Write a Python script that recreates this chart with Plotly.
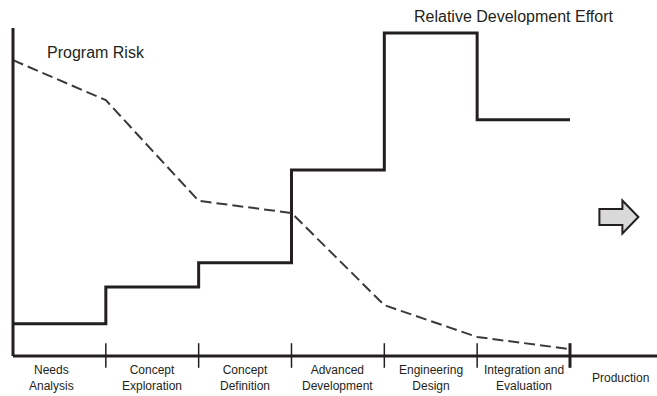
"""
Program risk vs relative development effort across acquisition phases.
"""

import plotly.graph_objects as go

# phase boundaries (0..6) and phase names
phases = ["Needs<br>Analysis", "Concept<br>Exploration", "Concept<br>Definition",
          "Advanced<br>Development", "Engineering<br>Design", "Integration and<br>Evaluation"]
boundaries = [0, 1, 2, 3, 4, 5, 6]

# relative development effort per phase (0-100 scale)
effort = [9.8, 21.0, 28.4, 56.7, 98.5, 72.0]

# program risk at each phase boundary (0-100 scale)
risk = [90.2, 78.0, 47.3, 43.6, 15.5, 5.8, 2.1]

INK = "#231f20"
FONT = "Liberation Sans, Arial, Helvetica, sans-serif"

# pixel scale of the drawing (px per phase, px per risk/effort unit)
XS, YS = 92.83, 3.28

fig = go.Figure()

# effort as a staircase
fig.add_trace(go.Scatter(
    x=boundaries, y=effort + [effort[-1]],
    mode="lines", line=dict(shape="hv", color=INK, width=3),
    hoverinfo="skip", showlegend=False,
))

# risk as dashed polyline
fig.add_trace(go.Scatter(
    x=boundaries, y=risk,
    mode="lines", line=dict(color="#3a3a3a", width=2, dash="11px,5px"),
    hoverinfo="skip", showlegend=False,
))

# axes drawn by hand
fig.add_shape(type="line", x0=0, x1=0, y0=0, y1=100, line=dict(color=INK, width=3))
fig.add_shape(type="line", x0=0, x1=7.0, y0=0, y1=0, line=dict(color=INK, width=3))
for b in boundaries[1:]:
    fig.add_shape(type="line", x0=b, x1=b, y0=3.9, y1=-3.6,
                  line=dict(color=INK, width=3 if b == 6 else 1.5))

# phase labels
label_x = [0.42, 1.5, 2.5, 3.5, 4.5, 5.5]
for x, name in zip(label_x, phases):
    fig.add_annotation(x=x, y=-6.6, text=name, showarrow=False,
                       font=dict(size=12, color=INK, family=FONT),
                       xanchor="center", yanchor="middle")
fig.add_annotation(x=6.54, y=-6.6, text="Production", showarrow=False,
                   font=dict(size=12, color=INK, family=FONT))

# series captions
fig.add_annotation(x=0.345, y=92.4, text="Program Risk", showarrow=False,
                   xanchor="left", font=dict(size=16, color=INK, family=FONT))
fig.add_annotation(x=4.298, y=103.4, text="Relative Development Effort", showarrow=False,
                   xanchor="left", font=dict(size=16, color=INK, family=FONT))

# block arrow pointing to production
cx, cy = 6.5, 42.4
pts = [(-17, -8), (6, -8), (6, -16.5), (22, 0), (6, 16.5), (6, 8), (-17, 8)]
path = "M " + " L ".join(f"{cx + dx / XS:.4f},{cy + dy / YS:.4f}" for dx, dy in pts) + " Z"
fig.add_shape(type="path", path=path, fillcolor="#d9d9d9", line=dict(color=INK, width=2))

fig.update_xaxes(range=[-13 / XS, 644 / XS], visible=False, fixedrange=True)
fig.update_yaxes(range=[-40 / YS, 356 / YS], visible=False, fixedrange=True)
fig.update_layout(
    width=657, height=396,
    margin=dict(l=0, r=0, t=0, b=0),
    plot_bgcolor="white", paper_bgcolor="white",
    font=dict(family=FONT),
)

fig.write_html("out.html", config={"displayModeBar": False},
               post_script="document.body.style.margin = '0';")
